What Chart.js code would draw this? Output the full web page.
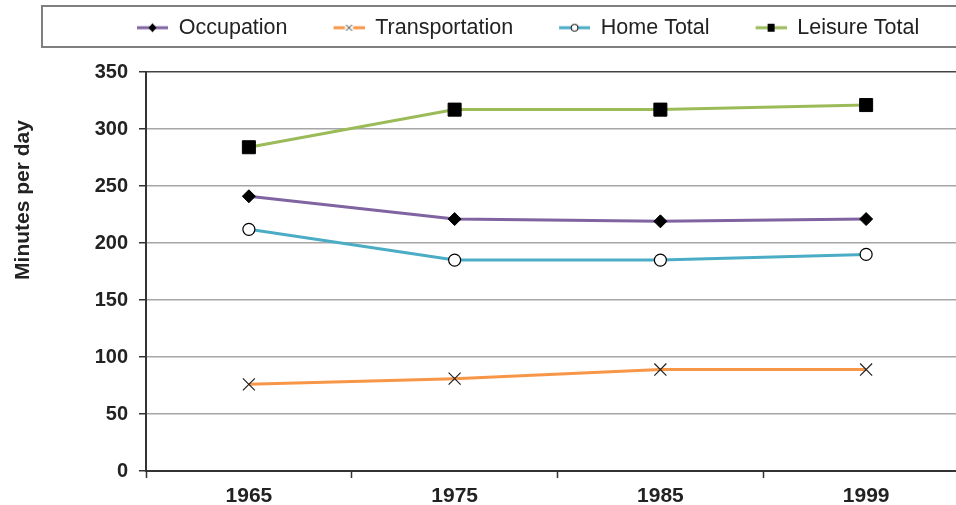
<!DOCTYPE html>
<html lang="en">
<head>
  <meta charset="UTF-8" />
  <title>Minutes per day</title>
  <script src="https://cdn.jsdelivr.net/npm/chart.js"></script>
  <style>
    html, body {
      margin: 0;
      padding: 0;
      background: #fff;
      overflow: hidden;
    }
    #timeChart {
      display: block;
    }
  </style>
</head>
<body>
  <canvas id="timeChart" width="970" height="505"></canvas>

  <script>
    const years = ['1965', '1975', '1985', '1999'];
    const occupation = [241, 221, 219, 221];
    const transportation = [76, 81, 89, 89];
    const homeTotal = [212, 185, 185, 190];
    const leisureTotal = [284, 317, 317, 321];
    const yTicks = [0, 50, 100, 150, 200, 250, 300, 350];

    const FONT = '"Liberation Sans", Arial, sans-serif';
    const colors = ['#8064a2', '#f79646', '#4bacc6', '#9bbb59'];

    // little line+marker pictures for the legend
    function legendIcon(color, marker) {
      const pad = 36, len = 31;
      const c = document.createElement('canvas');
      c.width = pad + len;
      c.height = 14;
      const g = c.getContext('2d');
      const cy = 7, cx = pad + len / 2;
      g.strokeStyle = color;
      g.lineWidth = 3;
      g.beginPath();
      g.moveTo(pad, cy);
      g.lineTo(pad + len, cy);
      g.stroke();
      g.fillStyle = '#000';
      g.strokeStyle = '#000';
      g.lineWidth = 1;
      if (marker === 'diamond') {
        g.beginPath();
        g.moveTo(cx, cy - 4.5); g.lineTo(cx + 4, cy); g.lineTo(cx, cy + 4.5); g.lineTo(cx - 4, cy);
        g.closePath(); g.fill();
      } else if (marker === 'cross') {
        g.fillStyle = '#fff';
        g.fillRect(cx - 4, cy - 4, 8, 8);
        g.strokeStyle = '#333';
        g.beginPath();
        g.moveTo(cx - 3, cy - 3); g.lineTo(cx + 3, cy + 3);
        g.moveTo(cx + 3, cy - 3); g.lineTo(cx - 3, cy + 3);
        g.stroke();
      } else if (marker === 'circle') {
        g.fillStyle = '#fff';
        g.beginPath();
        g.arc(cx, cy, 3.5, 0, Math.PI * 2);
        g.fill(); g.stroke();
      } else {
        g.fillRect(cx - 3.5, cy - 4, 7, 8);
      }
      return c;
    }
    const icons = [
      legendIcon(colors[0], 'diamond'),
      legendIcon(colors[1], 'cross'),
      legendIcon(colors[2], 'circle'),
      legendIcon(colors[3], 'square')
    ];

    const extras = {
      id: 'extras',
      beforeLayout(chart) {
        const lg = chart.legend;
        if (lg && !lg._wrapped) {
          const fit = lg.fit;
          lg.fit = function () {
            fit.call(this);
            this.height = 65;
          };
          lg._wrapped = true;
        }
      },
      afterLayout(chart) {
        if (chart.legend) chart.legend.left = 91;
      },
      beforeDraw(chart) {
        const ctx = chart.ctx;
        ctx.save();
        ctx.strokeStyle = '#7f7f7f';
        ctx.lineWidth = 2;
        ctx.strokeRect(42, 6, 1000, 41);
        ctx.restore();
      },
      afterDraw(chart) {
        const ctx = chart.ctx;
        ctx.save();
        ctx.translate(23, 200);
        ctx.rotate(-Math.PI / 2);
        ctx.font = 'bold 21px ' + FONT;
        ctx.fillStyle = '#222';
        ctx.textAlign = 'center';
        ctx.textBaseline = 'middle';
        ctx.fillText('Minutes per day', 0, 0);
        ctx.restore();
      }
    };

    const ctx = document.getElementById('timeChart').getContext('2d');
    new Chart(ctx, {
      type: 'line',
      data: {
        labels: years,
        datasets: [
          {
            label: 'Occupation',
            data: occupation,
            borderColor: colors[0],
            pointStyle: 'rectRot',
            pointRadius: 6.5,
            pointBackgroundColor: '#000',
            pointBorderColor: '#000'
          },
          {
            label: 'Transportation',
            data: transportation,
            borderColor: colors[1],
            pointStyle: 'crossRot',
            pointRadius: 8.5,
            pointBorderColor: '#222',
            pointBorderWidth: 1.2
          },
          {
            label: 'Home Total',
            data: homeTotal,
            borderColor: colors[2],
            pointStyle: 'circle',
            pointRadius: 6,
            pointBackgroundColor: '#fff',
            pointBorderColor: '#000',
            pointBorderWidth: 1.2
          },
          {
            label: 'Leisure Total',
            data: leisureTotal,
            borderColor: colors[3],
            pointStyle: 'rect',
            pointRadius: 9.2,
            pointBackgroundColor: '#000',
            pointBorderColor: '#000'
          }
        ]
      },
      options: {
        responsive: false,
        animation: false,
        events: [],
        elements: {
          line: { borderWidth: 3, tension: 0 },
          point: { borderWidth: 1 }
        },
        layout: { autoPadding: false, padding: { top: 7, left: 0, right: 1, bottom: 0 } },
        scales: {
          x: {
            offset: true,
            grid: {
              offset: true,
              drawOnChartArea: false,
              drawTicks: true,
              tickLength: 7,
              tickColor: '#333',
              tickWidth: 1.5
            },
            border: { color: '#333', width: 2 },
            ticks: {
              padding: 6,
              color: '#222',
              font: { family: FONT, size: 21, weight: 'bold' }
            },
            afterFit(scale) { scale.height = 34; }
          },
          y: {
            min: 0,
            max: 350,
            afterBuildTicks(scale) {
              scale.ticks = yTicks.map(v => ({ value: v }));
            },
            grid: {
              color: ctx => ctx.tick && ctx.tick.value === 350 ? '#444' : '#a6a6a6',
              lineWidth: 1.5,
              tickLength: 7,
              tickColor: '#333',
              tickWidth: 1.5
            },
            border: { color: '#333', width: 2 },
            ticks: {
              padding: 11,
              color: '#222',
              font: { family: FONT, size: 20, weight: 'bold' }
            },
            afterFit(scale) { scale.width = 146; }
          }
        },
        plugins: {
          legend: {
            position: 'top',
            align: 'start',
            labels: {
              usePointStyle: true,
              pointStyleWidth: 67,
              padding: 10,
              color: '#222',
              font: { family: FONT, size: 21.5 },
              generateLabels(chart) {
                const items = Chart.defaults.plugins.legend.labels.generateLabels(chart);
                items.forEach((it, i) => { it.pointStyle = icons[i]; });
                return items;
              }
            }
          },
          tooltip: { enabled: false }
        }
      },
      plugins: [extras]
    });
  </script>
</body>
</html>
